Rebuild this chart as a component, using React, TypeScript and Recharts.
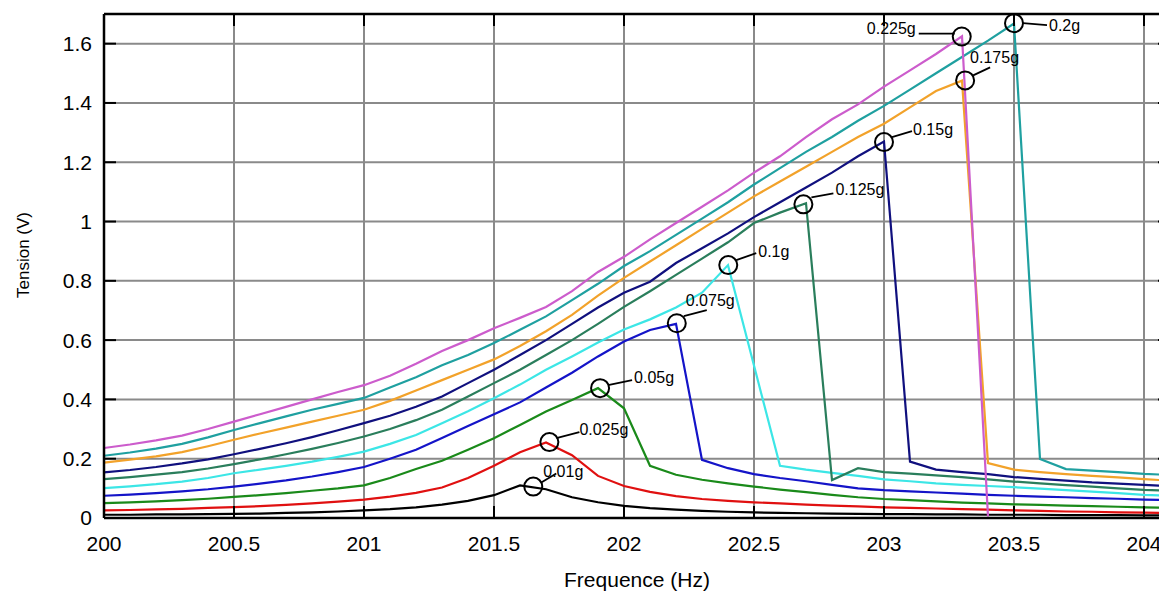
import React from 'react';
import { LineChart, Line, XAxis, YAxis, CartesianGrid, ReferenceDot } from 'recharts';

const freq = [
  200.0, 200.1, 200.2, 200.3, 200.4, 200.5, 200.6, 200.7, 200.8, 200.9,
  201.0, 201.1, 201.2, 201.3, 201.4, 201.5, 201.6, 201.7, 201.8, 201.9,
  202.0, 202.1, 202.2, 202.3, 202.4, 202.5, 202.6, 202.7, 202.8, 202.9,
  203.0, 203.1, 203.2, 203.3, 203.4, 203.5, 203.6, 203.7, 203.8, 203.9,
  204.0, 204.1,
];

const g010 = [
  0.011, 0.011, 0.012, 0.012, 0.013, 0.014, 0.015, 0.017, 0.019, 0.022,
  0.026, 0.030, 0.036, 0.045, 0.058, 0.077, 0.110, 0.097, 0.070, 0.053,
  0.041, 0.033, 0.028, 0.024, 0.021, 0.019, 0.017, 0.016, 0.015, 0.014,
  0.013, 0.013, 0.012, 0.012, 0.011, 0.011, 0.011, 0.010, 0.010, 0.010,
  0.009, 0.009,
];
const g025 = [
  0.026, 0.027, 0.029, 0.031, 0.034, 0.037, 0.040, 0.044, 0.049, 0.055,
  0.062, 0.072, 0.085, 0.103, 0.135, 0.176, 0.222, 0.255, 0.212, 0.142,
  0.108, 0.088, 0.074, 0.064, 0.058, 0.053, 0.049, 0.045, 0.042, 0.039,
  0.036, 0.034, 0.032, 0.030, 0.028, 0.026, 0.024, 0.022, 0.021, 0.019,
  0.018, 0.017,
];
const g050 = [
  0.050, 0.053, 0.056, 0.060, 0.065, 0.071, 0.077, 0.084, 0.092, 0.100,
  0.110, 0.135, 0.165, 0.193, 0.230, 0.269, 0.314, 0.359, 0.398, 0.438,
  0.370, 0.176, 0.146, 0.129, 0.117, 0.106, 0.096, 0.087, 0.078, 0.070,
  0.064, 0.060, 0.056, 0.052, 0.049, 0.046, 0.044, 0.042, 0.040, 0.038,
  0.036, 0.034,
];
const g075 = [
  0.075, 0.079, 0.084, 0.090, 0.097, 0.106, 0.116, 0.127, 0.140, 0.155,
  0.172, 0.200, 0.230, 0.270, 0.310, 0.350, 0.390, 0.440, 0.490, 0.545,
  0.595, 0.634, 0.655, 0.196, 0.168, 0.148, 0.135, 0.124, 0.112, 0.100,
  0.094, 0.090, 0.086, 0.082, 0.078, 0.075, 0.072, 0.070, 0.067, 0.065,
  0.062, 0.060,
];
const g100 = [
  0.101, 0.107, 0.114, 0.123, 0.135, 0.151, 0.163, 0.176, 0.190, 0.206,
  0.224, 0.250, 0.280, 0.320, 0.360, 0.404, 0.450, 0.500, 0.545, 0.592,
  0.636, 0.670, 0.710, 0.760, 0.853, null, 0.176, 0.163, 0.152, 0.142,
  0.130, 0.124, 0.117, 0.112, 0.108, 0.104, 0.099, 0.094, 0.089, 0.084,
  0.078, 0.075,
];
const g125 = [
  0.131, 0.138, 0.146, 0.155, 0.167, 0.182, 0.198, 0.215, 0.233, 0.253,
  0.275, 0.300, 0.330, 0.365, 0.410, 0.455, 0.500, 0.550, 0.600, 0.655,
  0.712, 0.765, 0.820, 0.875, 0.930, 0.995, 1.030, 1.062, 0.128, 0.168,
  0.155, 0.150, 0.144, 0.138, 0.130, 0.123, 0.117, 0.111, 0.106, 0.100,
  0.095, 0.092,
];
const g150 = [
  0.154, 0.162, 0.172, 0.184, 0.198, 0.215, 0.233, 0.252, 0.273, 0.296,
  0.320, 0.345, 0.375, 0.410, 0.455, 0.500, 0.550, 0.600, 0.655, 0.710,
  0.760, 0.797, 0.860, 0.910, 0.960, 1.015, 1.065, 1.115, 1.165, 1.220,
  1.270, 0.190, 0.163, 0.155, 0.148, 0.138, 0.132, 0.126, 0.120, 0.116,
  0.112, 0.107,
];
const g175 = [
  0.187, 0.197, 0.208, 0.222, 0.242, 0.264, 0.285, 0.305, 0.325, 0.345,
  0.365, 0.395, 0.430, 0.465, 0.500, 0.535, 0.580, 0.630, 0.685, 0.750,
  0.810, 0.865, 0.920, 0.975, 1.030, 1.085, 1.135, 1.185, 1.235, 1.285,
  1.330, 1.385, 1.440, 1.475, 0.185, 0.163, 0.155, 0.148, 0.142, 0.137,
  0.131, 0.126,
];
const g200 = [
  0.210, 0.221, 0.234, 0.250, 0.272, 0.297, 0.320, 0.343, 0.365, 0.385,
  0.405, 0.440, 0.475, 0.515, 0.550, 0.590, 0.635, 0.680, 0.735, 0.790,
  0.850, 0.900, 0.955, 1.010, 1.065, 1.125, 1.180, 1.235, 1.285, 1.340,
  1.390, 1.445, 1.500, 1.555, 1.610, 1.668, 0.199, 0.165, 0.160, 0.155,
  0.149, 0.145,
];
const g225 = [
  0.236, 0.248, 0.262, 0.278, 0.300, 0.325, 0.350, 0.375, 0.400, 0.425,
  0.448, 0.480, 0.520, 0.563, 0.600, 0.640, 0.675, 0.712, 0.765, 0.830,
  0.881, 0.940, 0.995, 1.050, 1.105, 1.165, 1.220, 1.285, 1.345, 1.395,
  1.455, 1.510, 1.565, 1.625, 0.005, null, null, null, null, null,
  null, null,
];

const seriesNames = ['0.01g', '0.025g', '0.05g', '0.075g', '0.1g', '0.125g', '0.15g', '0.175g', '0.2g', '0.225g'];
const seriesValues = [g010, g025, g050, g075, g100, g125, g150, g175, g200, g225];
const seriesColors = ['#000000', '#e01010', '#1a8a1a', '#1414c8', '#3ce6e6', '#2a7e5c', '#10107e', '#f2a22a', '#1fa0a0', '#cc5ccc'];

const xTicks = [200, 200.5, 201, 201.5, 202, 202.5, 203, 203.5, 204];
const yTicks = [0, 0.2, 0.4, 0.6, 0.8, 1, 1.2, 1.4, 1.6];

// annotation circles (centre, in data units)
const annLabels = ['0.01g', '0.025g', '0.05g', '0.075g', '0.1g', '0.125g', '0.15g', '0.175g', '0.2g', '0.225g'];
const annFreq = [201.651, 201.713, 201.908, 202.203, 202.401, 202.69, 203.0, 203.312, 203.5, 203.299];
const annValue = [0.106, 0.256, 0.438, 0.657, 0.853, 1.058, 1.268, 1.476, 1.669, 1.624];

// leader line / text offsets in pixels relative to circle centre
const annLayout: Record<string, { l: number[]; t: number[]; a: 'start' | 'end' }> = {
  '0.01g': { l: [8, -4, 23, -13], t: [10, -10], a: 'start' },
  '0.025g': { l: [7, -4, 30, -10], t: [30, -7], a: 'start' },
  '0.05g': { l: [8, -3, 32, -8], t: [34, -5], a: 'start' },
  '0.075g': { l: [7, -7, 30, -13], t: [9, -17], a: 'start' },
  '0.1g': { l: [8, -5, 28, -12], t: [30, -8], a: 'start' },
  '0.125g': { l: [8, -7, 30, -11], t: [32, -9], a: 'start' },
  '0.15g': { l: [8, -5, 28, -11], t: [29, -7], a: 'start' },
  '0.175g': { l: [8, -5, 25, -13], t: [5, -17], a: 'start' },
  '0.2g': { l: [9, 0, 33, 2], t: [35, 8], a: 'start' },
  '0.225g': { l: [-7, -3, -43, -3], t: [-46, -3], a: 'end' },
};

const FONT = 'Liberation Sans, Arial, Helvetica, sans-serif';

const data = freq.map((f, i) => {
  const row: Record<string, number | null> = { f };
  seriesValues.forEach((vals, k) => {
    row['s' + k] = vals[i];
  });
  return row;
});

const makeAnn = (label: string) => (props: any) => {
  const { cx, cy } = props;
  const L = annLayout[label];
  return (
    <g>
      <circle cx={cx} cy={cy} r={9} fill="none" stroke="#000" strokeWidth={2} />
      <line x1={cx + L.l[0]} y1={cy + L.l[1]} x2={cx + L.l[2]} y2={cy + L.l[3]} stroke="#000" strokeWidth={1.8} />
      <text x={cx + L.t[0]} y={cy + L.t[1]} textAnchor={L.a} fontSize={16} fontFamily={FONT} fill="#000">
        {label}
      </text>
    </g>
  );
};

const XTitle = (props: any) => {
  const vb = props.viewBox || { x: 104, width: 1066 };
  return (
    <text x={vb.x + vb.width / 2} y={587} textAnchor="middle" fontSize={21} fontFamily={FONT} fill="#000">
      Frequence (Hz)
    </text>
  );
};

const YTitle = () => (
  <text x={0} y={0} transform="translate(29 255) rotate(-90)" textAnchor="middle" fontSize={17} fontFamily={FONT} fill="#000">
    Tension (V)
  </text>
);

export default function App() {
  return (
    <div style={{ position: 'absolute', left: 0, top: 0, width: 1159, height: 592, overflow: 'hidden', background: '#fff' }}>
      <LineChart width={1190} height={592} data={data} margin={{ top: 0, right: 0, bottom: 0, left: 44 }}>
        <CartesianGrid xAxisId="b" yAxisId="l" stroke="#8a8a8a" strokeWidth={2} />
        <XAxis
          xAxisId="t"
          orientation="top"
          type="number"
          dataKey="f"
          domain={[200, 204.1]}
          ticks={xTicks}
          interval={0}
          allowDataOverflow
          height={14}
          tickSize={-12}
          tickFormatter={() => ''}
          tickLine={{ stroke: '#000', strokeWidth: 2 }}
          axisLine={{ stroke: '#000', strokeWidth: 2.5 }}
        />
        <XAxis
          xAxisId="b"
          orientation="bottom"
          type="number"
          dataKey="f"
          domain={[200, 204.1]}
          ticks={xTicks}
          interval={0}
          allowDataOverflow
          height={74}
          tickSize={-12}
          tickMargin={30}
          tick={{ fontSize: 21, fill: '#000', fontFamily: FONT }}
          tickFormatter={(v: number) => String(v)}
          tickLine={{ stroke: '#000', strokeWidth: 2 }}
          axisLine={{ stroke: '#000', strokeWidth: 2.5 }}
          label={<XTitle />}
        />
        <YAxis
          yAxisId="l"
          orientation="left"
          type="number"
          domain={[0, 1.7]}
          ticks={yTicks}
          interval={0}
          allowDataOverflow
          width={60}
          tickSize={-12}
          tickMargin={24}
          tick={{ fontSize: 21, fill: '#000', fontFamily: FONT }}
          tickFormatter={(v: number) => String(v)}
          tickLine={{ stroke: '#000', strokeWidth: 2 }}
          axisLine={{ stroke: '#000', strokeWidth: 2.5 }}
          label={<YTitle />}
        />
        <YAxis
          yAxisId="r"
          orientation="right"
          type="number"
          domain={[0, 1.7]}
          ticks={yTicks}
          interval={0}
          allowDataOverflow
          width={20}
          tickSize={-12}
          tickFormatter={() => ''}
          tickLine={{ stroke: '#000', strokeWidth: 2 }}
          axisLine={{ stroke: '#000', strokeWidth: 2.5 }}
        />
        {seriesNames.map((name, k) => (
          <Line
            key={name}
            xAxisId="b"
            yAxisId="l"
            type="linear"
            dataKey={'s' + k}
            name={name}
            stroke={seriesColors[k]}
            strokeWidth={2.2}
            dot={false}
            activeDot={false}
            connectNulls
            isAnimationActive={false}
          />
        ))}
        {annLabels.map((label, i) => (
          <ReferenceDot
            key={label}
            xAxisId="b"
            yAxisId="l"
            x={annFreq[i]}
            y={annValue[i]}
            r={9}
            ifOverflow="visible"
            shape={makeAnn(label)}
          />
        ))}
      </LineChart>
    </div>
  );
}
